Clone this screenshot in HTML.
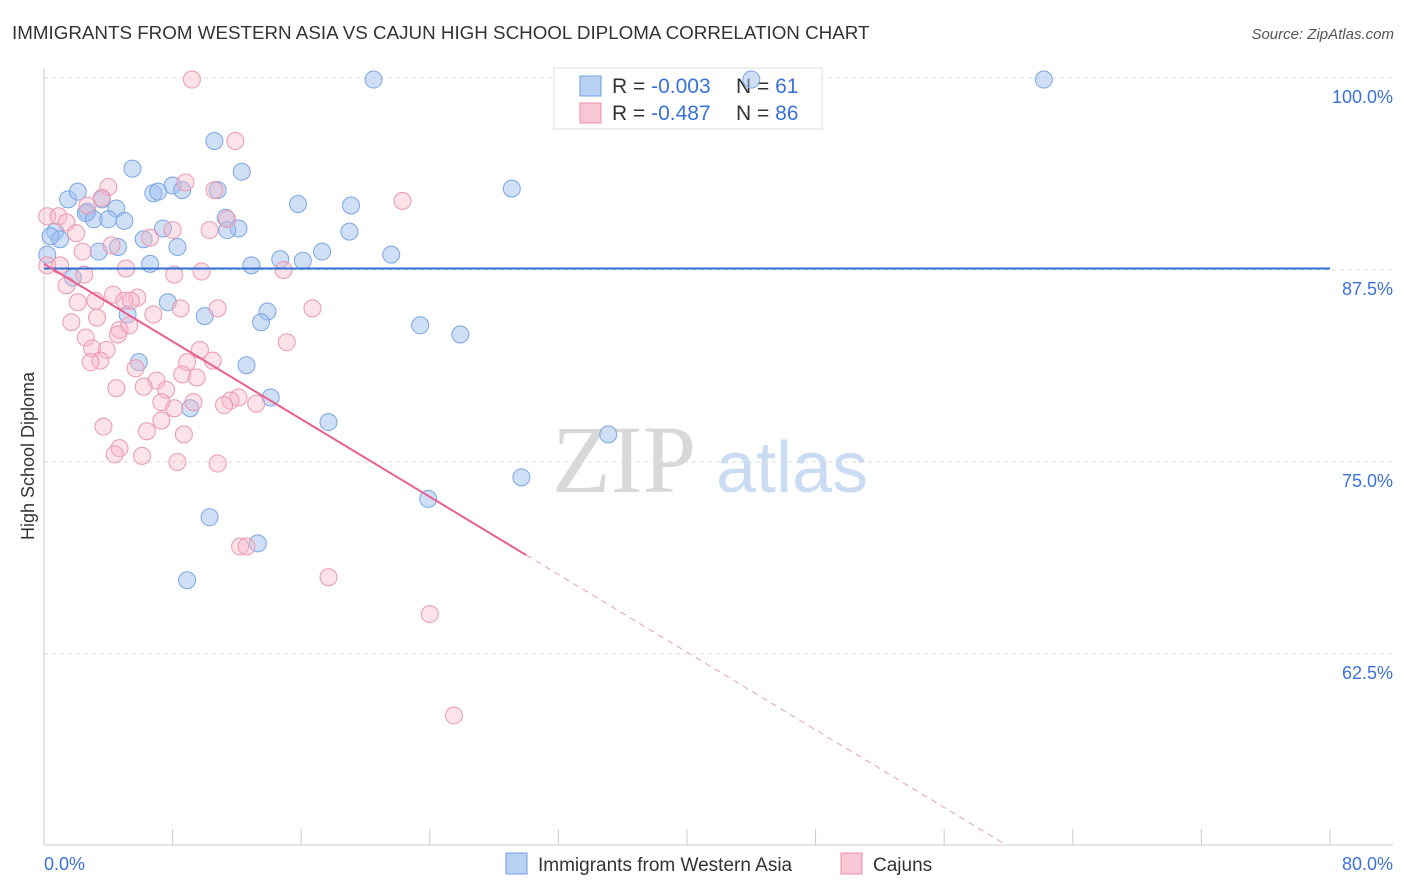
<!DOCTYPE html>
<html><head><meta charset="utf-8"><style>
body{margin:0;background:#fff;font-family:"Liberation Sans",sans-serif}
svg{display:block}
</style></head><body>
<svg id="chart" width="1406" height="892">
<text x="12" y="39" font-size="18.8" fill="#333">IMMIGRANTS FROM WESTERN ASIA VS CAJUN HIGH SCHOOL DIPLOMA CORRELATION CHART</text>
<text x="1394" y="39" font-size="15" fill="#555" font-style="italic" text-anchor="end">Source: ZipAtlas.com</text>
<text x="34" y="456" font-size="18" fill="#333" transform="rotate(-90 34 456)" text-anchor="middle">High School Diploma</text>
<g>
<text x="552" y="492" font-size="96" font-family="Liberation Serif,serif" fill="#d8d8d8">ZIP</text>
<text x="716" y="492" font-size="72" fill="#c9dcf3">atlas</text>
</g>
<g id="grid"></g><g id="axes"></g>
<g>
<rect x="554" y="68" width="268" height="61" fill="#fff" stroke="#ddd"/>
<rect x="580" y="76" width="21" height="20" fill="#b9d1f3" stroke="#6f9fe0"/>
<rect x="580" y="103" width="21" height="20" fill="#f8c6d4" stroke="#eb8fab"/>
<text x="612" y="93" font-size="21" fill="#333">R = <tspan fill="#3a72d8">-0.003</tspan></text>
<text x="736" y="93" font-size="21" fill="#333">N = <tspan fill="#3a72d8"> 61</tspan></text>
<text x="612" y="120" font-size="21" fill="#333">R = <tspan fill="#3a72d8"> -0.487</tspan></text>
<text x="736" y="120" font-size="21" fill="#333">N = <tspan fill="#3a72d8">86</tspan></text>
</g>
<g id="pts"></g><g id="trend"></g>
<g>
<rect x="506" y="853" width="21" height="21" fill="#b9d1f3" stroke="#6f9fe0"/>
<text x="538" y="871" font-size="19" fill="#333">Immigrants from Western Asia</text>
<rect x="841" y="853" width="21" height="21" fill="#f8c6d4" stroke="#eb8fab"/>
<text x="873" y="871" font-size="19" fill="#333">Cajuns</text>
</g>
</svg>
<script>
const yTicks=[100,87.5,75,62.5];
const yTickLabels=["100.0%","87.5%","75.0%","62.5%"];
const xTicks=[0,8,16,24,32,40,48,56,64,72,80];
const xEndLabels=["0.0%","80.0%"];
const blueX=[20.5,44.0,62.2,10.6,5.5,12.3,8.0,8.6,10.8,29.1,6.8,7.1,1.5,2.1,3.6,15.8,19.1,2.7,4.5,2.6,11.3,3.1,4.0,5.0,7.4,12.1,11.4,19.0,0.7,1.0,6.2,8.3,4.6,3.4,17.3,21.6,14.7,16.1,12.9,6.6,1.8,7.7,13.9,10.0,13.5,23.4,25.9,5.2,5.9,12.6,14.1,9.1,17.7,35.1,29.7,23.9,10.3,13.3,8.9,0.4,0.2];
const blueY=[99.9,99.9,99.9,95.9,94.1,93.9,93.0,92.7,92.7,92.8,92.5,92.6,92.1,92.6,92.1,91.8,91.7,91.3,91.5,91.2,90.9,90.8,90.8,90.7,90.2,90.2,90.1,90.0,90.0,89.5,89.5,89.0,89.0,88.7,88.7,88.5,88.2,88.1,87.8,87.9,87.0,85.4,84.8,84.5,84.1,83.9,83.3,84.6,81.5,81.3,79.2,78.5,77.6,76.8,74.0,72.6,71.4,69.7,67.3,89.7,88.5];
const pinkX=[9.2,11.9,22.3,4.0,8.8,10.6,3.6,2.7,0.2,0.9,1.4,11.4,10.3,8.0,6.6,2.0,4.2,2.4,0.2,1.0,1.4,2.5,5.1,8.1,9.8,14.9,4.3,5.8,3.2,5.0,2.1,5.4,10.8,8.5,16.7,1.7,3.3,6.8,4.7,5.3,2.6,4.6,15.1,3.0,3.9,9.7,3.5,2.9,8.9,10.5,5.7,7.0,8.6,9.5,4.5,6.2,7.6,7.3,12.1,11.6,11.2,13.2,8.1,9.3,3.7,6.4,8.7,7.3,4.7,4.4,6.1,8.3,10.8,12.2,12.6,17.7,24.0,25.5];
const pinkY=[99.9,95.9,92.0,92.9,93.2,92.7,92.2,91.7,91.0,91.0,90.6,90.8,90.1,90.1,89.6,89.9,89.1,88.7,87.8,87.8,86.5,87.2,87.6,87.2,87.4,87.5,85.9,85.7,85.5,85.5,85.4,85.5,85.0,85.0,85.0,84.1,84.4,84.6,83.6,83.9,83.1,83.3,82.8,82.4,82.3,82.3,81.6,81.5,81.5,81.6,81.1,80.3,80.7,80.5,79.8,79.9,79.7,78.9,79.2,79.0,78.7,78.8,78.5,78.9,77.3,77.0,76.8,77.7,75.9,75.5,75.4,75.0,74.9,69.5,69.5,67.5,65.1,58.5];
const blueTrend=[87.6,87.6];
const pinkTrend=[87.9,-0.632];
const pinkSolidEnd=30;
const NS="http://www.w3.org/2000/svg";
const X=v=>44+v/80*1286, Y=v=>78+(100-v)/12.5*192;
function mk(p,t,a){const e=document.createElementNS(NS,t);for(const k in a)e.setAttribute(k,a[k]);p.appendChild(e);return e;}
const grid=document.getElementById('grid'),axes=document.getElementById('axes'),pts=document.getElementById('pts'),tr=document.getElementById('trend');
yTicks.forEach((v,i)=>{
 const l=mk(grid,'line',{x1:44,x2:1393,y1:Y(v),y2:Y(v),stroke:'#ddd','stroke-dasharray':'4 4'});
 
 
 const t=mk(grid,'text',{x:1393,y:Y(v)+25,'font-size':18,fill:'#3a72d8','text-anchor':'end'});t.textContent=yTickLabels[i];
 
 
});
const xa=mk(axes,'line',{x1:44,x2:1393,y1:845,y2:845,stroke:'#ccc'});


const ya=mk(axes,'line',{x1:44,x2:44,y1:68,y2:845,stroke:'#ccc'});


xTicks.forEach(v=>{const t=mk(axes,'line',{x1:X(v),x2:X(v),y1:829,y2:845,stroke:'#ccc'});
 
 });
const xl0=mk(axes,'text',{x:44,y:870,'font-size':18,fill:'#3a72d8'});xl0.textContent=xEndLabels[0];


const xl1=mk(axes,'text',{x:1393,y:870,'font-size':18,fill:'#3a72d8','text-anchor':'end'});xl1.textContent=xEndLabels[1];


blueX.forEach((x,i)=>{const c=mk(pts,'circle',{cx:X(x),cy:Y(blueY[i]),r:8.5,fill:'rgba(160,192,238,0.5)',stroke:'#7aa6e3','stroke-width':1});
 
 });
pinkX.forEach((x,i)=>{const c=mk(pts,'circle',{cx:X(x),cy:Y(pinkY[i]),r:8.5,fill:'rgba(247,182,200,0.4)',stroke:'#ec98b2','stroke-width':1});
 
 });
const bl=mk(tr,'line',{x1:X(0),x2:X(80),y1:Y(blueTrend[0]),y2:Y(blueTrend[1]),stroke:'#2f6fd6','stroke-width':2});


const pf=x=>pinkTrend[0]+pinkTrend[1]*x;
const xEnd=Math.min(80,(50.1-pinkTrend[0])/pinkTrend[1]);
const ps=mk(tr,'line',{x1:X(0),x2:X(pinkSolidEnd),y1:Y(pf(0)),y2:Y(pf(pinkSolidEnd)),stroke:'#e8608e','stroke-width':2});


const pd=mk(tr,'line',{x1:X(pinkSolidEnd),x2:X(xEnd),y1:Y(pf(pinkSolidEnd)),y2:Y(pf(xEnd)),stroke:'#e8a0b8','stroke-width':1,'stroke-dasharray':'6 5'});


</script>
</body></html>
